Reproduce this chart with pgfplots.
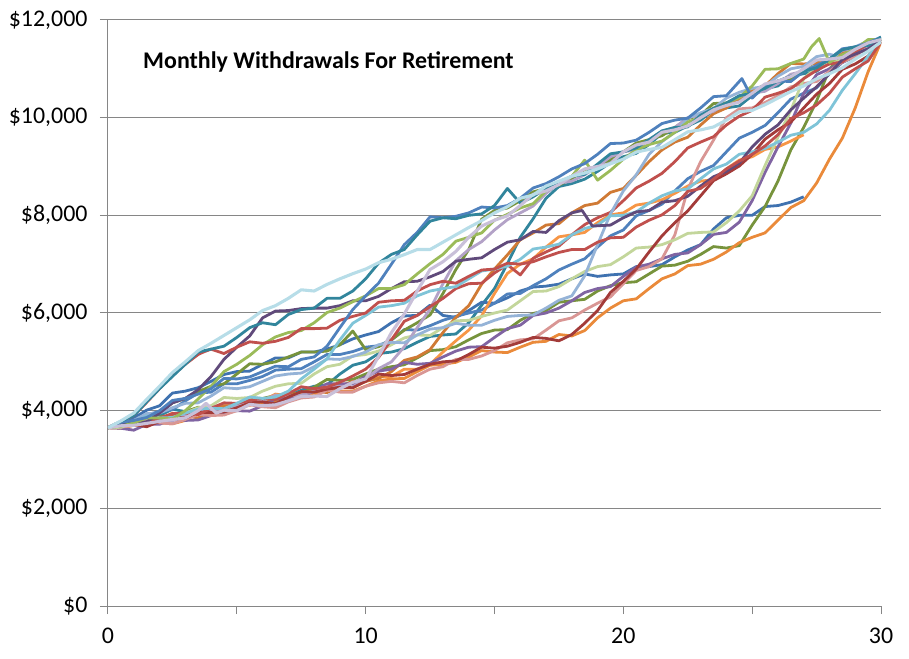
\documentclass[border=0pt]{standalone}
\usepackage{pgfplots}
\pgfplotsset{compat=1.18}
\usepackage{fontspec}
\setmainfont{Carlito}

\definecolor{axisgray}{RGB}{134,134,134}
\definecolor{cblue}{HTML}{4F81BD}
\definecolor{cblue2}{HTML}{3F72B0}
\definecolor{cred}{HTML}{C0504D}
\definecolor{cgreen}{HTML}{9BBB59}
\definecolor{cpurple}{HTML}{8064A2}
\definecolor{caqua}{HTML}{7FC4D8}
\definecolor{corange}{HTML}{F79646}
\definecolor{corange2}{HTML}{EA8A3A}
\definecolor{cteal}{HTML}{31859C}
\definecolor{cdkgreen}{HTML}{77933C}
\definecolor{cdkpurple}{HTML}{604A7B}
\definecolor{cdkorange}{HTML}{D07A35}
\definecolor{cdkred}{HTML}{A33B39}
\definecolor{cltblue}{HTML}{95B3D7}
\definecolor{cpink}{HTML}{D99694}
\definecolor{cltgreen}{HTML}{C3D69B}
\definecolor{cltpurple}{HTML}{B3A2C7}
\definecolor{cpaleaqua}{HTML}{B7DDE8}
\definecolor{cpalelav}{HTML}{C9C0D9}

\begin{document}
\begin{tikzpicture}
\begin{axis}[
  scale only axis, width=773bp, height=586bp,
  xmin=0, xmax=30, ymin=0, ymax=12000,
  axis x line*=bottom, axis y line*=left,
  axis line style={axisgray, line width=1bp},
  xtick={0,5,...,30}, xticklabels={0,,10,,20,,30},
  ytick={0,2000,...,12000}, scaled y ticks=false,
  yticklabels={\$0,{\$2,000},{\$4,000},{\$6,000},{\$8,000},{\$10,000},{\$12,000}},
  tick align=outside, major tick length=8bp,
  tick style={axisgray, line width=1bp},
  ymajorgrids, grid style={axisgray, line width=1bp},
  tick label style={font=\fontsize{24}{28}\selectfont, black},
  xticklabel style={yshift=-10bp},
  yticklabel style={xshift=-9bp},
  every axis plot/.append style={line width=2.8bp, line join=round, mark=none},
]

% U2 teal, steep 14-17
\addplot[cteal] coordinates {(0,3650)(0.5,3780)(1,3780)(1.5,3810)(2,3900)(2.5,4030)(3,3980)(3.5,3930)(4,4030)(4.5,4080)(5,4000)(5.5,4170)(6,4150)(6.5,4170)(7,4300)(7.5,4420)(8,4500)(8.5,4530)(9,4750)(9.5,4930)(10,5000)(10.5,5170)(11,5200)(11.5,5270)(12,5400)(12.5,5520)(13,5550)(13.5,5570)(14,5800)(14.5,6160)(15,6500)(15.5,7010)(16,7550)(16.5,7930)(17,8350)(17.5,8590)(18,8650)(18.5,8740)(19,8900)(19.5,9080)(20,9200)(20.5,9270)(21,9450)(21.5,9680)(22,9700)(22.5,9830)(23,9950)(23.5,10150)(24,10200)(24.5,10240)(25,10450)(25.5,10590)(26,10650)(26.5,10850)(27,10900)(27.5,10950)(28,11150)(28.5,11310)(29,11400)(29.5,11440)(30,11600)};
% G blue, ends at 27
\addplot[cblue2] coordinates {(0,3650)(0.5,3690)(1,3850)(1.5,4010)(2,4100)(2.5,4360)(3,4400)(3.5,4470)(4,4600)(4.5,4740)(5,4800)(5.5,4810)(6,4950)(6.5,5080)(7,5080)(7.5,5200)(8,5200)(8.5,5260)(9,5350)(9.5,5470)(10,5550)(10.5,5620)(11,5800)(11.5,5940)(12,5950)(12.5,6160)(13,5950)(13.5,5910)(14,6050)(14.5,6220)(15,6200)(15.5,6310)(16,6450)(16.5,6530)(17,6550)(17.5,6590)(18,6700)(18.5,6800)(19,6750)(19.5,6780)(20,6800)(20.5,6950)(21,6950)(21.5,6990)(22,7150)(22.5,7290)(23,7400)(23.5,7720)(24,7950)(24.5,8000)(25,8000)(25.5,8180)(26,8200)(26.5,8270)(27,8380)};
% G2 blue, middle
\addplot[cblue] coordinates {(0,3650)(0.5,3680)(1,3800)(1.5,3920)(2,3980)(2.5,4020)(3,4200)(3.5,4360)(4,4380)(4.5,4550)(5,4550)(5.5,4620)(6,4700)(6.5,4830)(7,4850)(7.5,4860)(8,5000)(8.5,5150)(9,5150)(9.5,5210)(10,5300)(10.5,5330)(11,5450)(11.5,5660)(12,5650)(12.5,5740)(13,5850)(13.5,5930)(14,6000)(14.5,6060)(15,6200)(15.5,6390)(16,6400)(16.5,6560)(17,6700)(17.5,6880)(18,7000)(18.5,7110)(19,7350)(19.5,7580)(20,7700)(20.5,7990)(21,8100)(21.5,8230)(22,8500)(22.5,8750)(23,8900)(23.5,9020)(24,9300)(24.5,9580)(25,9700)(25.5,9840)(26,10100)(26.5,10380)(27,10500)(27.5,10610)(28,10900)(28.5,11130)(29,11250)(29.5,11510)(30,11600)};
% H dark green, low then steep 25-28
\addplot[cdkgreen] coordinates {(0,3650)(0.5,3750)(1,3760)(1.5,3890)(2,3870)(2.5,3900)(3,3980)(3.5,4070)(4,4050)(4.5,4020)(5,4130)(5.5,4260)(6,4250)(6.5,4310)(7,4350)(7.5,4350)(8,4480)(8.5,4640)(9,4620)(9.5,4640)(10,4750)(10.5,4850)(11,4900)(11.5,4940)(12,5080)(12.5,5230)(13,5250)(13.5,5310)(14,5450)(14.5,5580)(15,5650)(15.5,5660)(16,5850)(16.5,5990)(17,6050)(17.5,6220)(18,6250)(18.5,6280)(19,6450)(19.5,6560)(20,6620)(20.5,6640)(21,6800)(21.5,6960)(22,6980)(22.5,7060)(23,7200)(23.5,7360)(24,7330)(24.5,7380)(25,7800)(25.5,8180)(26,8700)(26.5,9340)(27,9800)(27.5,10340)(28,11000)(28.5,11270)(29,11350)(29.5,11360)(30,11550)};
% H2 dark green, steep 13-15
\addplot[cdkgreen] coordinates {(0,3650)(0.5,3740)(1,3750)(1.5,3770)(2,3950)(2.5,4160)(3,4250)(3.5,4390)(4,4500)(4.5,4550)(5,4750)(5.5,4960)(6,4950)(6.5,5000)(7,5100)(7.5,5200)(8,5200)(8.5,5220)(9,5350)(9.5,5630)(10,5250)(10.5,5310)(11,5450)(11.5,5650)(12,5800)(12.5,5960)(13,6400)(13.5,6890)(14,7300)(14.5,7920)(15,8100)(15.5,8150)(16,8300)(16.5,8480)(17,8550)(17.5,8620)(18,8750)(18.5,8940)(19,9000)(19.5,9140)(20,9300)(20.5,9480)(21,9550)(21.5,9630)(22,9800)(22.5,9980)(23,10050)(23.5,10290)(24,10300)(24.5,10360)(25,10550)(25.5,10670)(26,10750)(26.5,10790)(27,11000)(27.5,11150)(28,11200)(28.5,11390)(29,11400)(29.5,11470)(30,11600)};
% J orange, ends at 27
\addplot[corange] coordinates {(0,3650)(0.5,3690)(1,3700)(1.5,3690)(2,3800)(2.5,3950)(3,3900)(3.5,3940)(4,4000)(4.5,4100)(5,4100)(5.5,4110)(6,4200)(6.5,4340)(7,4300)(7.5,4350)(8,4400)(8.5,4510)(9,4500)(9.5,4470)(10,4600)(10.5,4690)(11,4700)(11.5,4850)(12,4850)(12.5,4950)(13,5200)(13.5,5430)(14,5650)(14.5,5940)(15,6400)(15.5,6810)(16,7000)(16.5,7110)(17,7350)(17.5,7560)(18,7600)(18.5,7650)(19,7850)(19.5,8010)(20,8050)(20.5,8210)(21,8250)(21.5,8320)(22,8450)(22.5,8600)(23,8700)(23.5,8730)(24,8950)(24.5,9130)(25,9200)(25.5,9350)(26,9400)(26.5,9520)(27,9650)};
% K orange, lowest
\addplot[corange2] coordinates {(0,3650)(0.5,3640)(1,3700)(1.5,3760)(2,3750)(2.5,3730)(3,3800)(3.5,3960)(4,3950)(4.5,3980)(5,4050)(5.5,4160)(6,4150)(6.5,4110)(7,4250)(7.5,4340)(8,4330)(8.5,4430)(9,4400)(9.5,4400)(10,4500)(10.5,4610)(11,4650)(11.5,4660)(12,4800)(12.5,4930)(13,4950)(13.5,4990)(14,5100)(14.5,5230)(15,5200)(15.5,5190)(16,5300)(16.5,5400)(17,5420)(17.5,5560)(18,5530)(18.5,5640)(19,5900)(19.5,6100)(20,6250)(20.5,6290)(21,6500)(21.5,6700)(22,6800)(22.5,6970)(23,7000)(23.5,7100)(24,7250)(24.5,7440)(25,7550)(25.5,7640)(26,7900)(26.5,8160)(27,8300)(27.5,8660)(28,9150)(28.5,9580)(29,10200)(29.5,10940)(30,11550)};
% K2 dark orange, steep 11-16
\addplot[cdkorange] coordinates {(0,3650)(0.5,3770)(1,3720)(1.5,3750)(2,3800)(2.5,3910)(3,3900)(3.5,3850)(4,4000)(4.5,4100)(5,4100)(5.5,4230)(6,4200)(6.5,4200)(7,4300)(7.5,4380)(8,4400)(8.5,4370)(9,4500)(9.5,4600)(10,4600)(10.5,4660)(11,4800)(11.5,5030)(12,5100)(12.5,5250)(13,5600)(13.5,5910)(14,6150)(14.5,6590)(15,6900)(15.5,7190)(16,7500)(16.5,7640)(17,7800)(17.5,7830)(18,8050)(18.5,8200)(19,8250)(19.5,8470)(20,8550)(20.5,8820)(21,9100)(21.5,9340)(22,9500)(22.5,9600)(23,9850)(23.5,10080)(24,10200)(24.5,10390)(25,10550)(25.5,10650)(26,10900)(26.5,11110)(27,11100)(27.5,11110)(28,11200)(28.5,11330)(29,11400)(29.5,11420)(30,11600)};
% L purple, low then steep 24-27
\addplot[cpurple] coordinates {(0,3650)(0.5,3640)(1,3600)(1.5,3720)(2,3720)(2.5,3830)(3,3800)(3.5,3810)(4,3900)(4.5,3990)(5,4000)(5.5,3990)(6,4100)(6.5,4240)(7,4250)(7.5,4280)(8,4400)(8.5,4550)(9,4550)(9.5,4550)(10,4700)(10.5,4810)(11,4850)(11.5,4990)(12,4950)(12.5,4970)(13,5100)(13.5,5220)(14,5300)(14.5,5310)(15,5500)(15.5,5680)(16,5750)(16.5,5950)(17,6000)(17.5,6100)(18,6250)(18.5,6420)(19,6500)(19.5,6540)(20,6750)(20.5,6940)(21,7000)(21.5,7110)(22,7200)(22.5,7230)(23,7400)(23.5,7610)(24,7650)(24.5,7860)(25,8300)(25.5,8880)(26,9400)(26.5,9890)(27,10500)(27.5,10880)(28,11000)(28.5,11130)(29,11300)(29.5,11470)(30,11550)};
% M pink, steep 22-24
\addplot[cpink] coordinates {(0,3650)(0.5,3660)(1,3700)(1.5,3760)(2,3750)(2.5,3730)(3,3820)(3.5,3920)(4,3900)(4.5,3910)(5,4000)(5.5,4120)(6,4080)(6.5,4060)(7,4180)(7.5,4260)(8,4280)(8.5,4420)(9,4380)(9.5,4380)(10,4500)(10.5,4570)(11,4600)(11.5,4570)(12,4720)(12.5,4850)(13,4900)(13.5,5050)(14,5050)(14.5,5120)(15,5230)(15.5,5390)(16,5450)(16.5,5470)(17,5650)(17.5,5840)(18,5900)(18.5,6060)(19,6200)(19.5,6330)(20,6600)(20.5,6870)(21,6950)(21.5,7110)(22,7600)(22.5,8530)(23,9100)(23.5,9540)(24,10000)(24.5,10180)(25,10200)(25.5,10310)(26,10450)(26.5,10630)(27,10700)(27.5,10740)(28,10950)(28.5,11140)(29,11250)(29.5,11470)(30,11550)};
% N light green, steep 25-27
\addplot[cltgreen] coordinates {(0,3650)(0.5,3660)(1,3750)(1.5,3880)(2,3850)(2.5,3830)(3,3950)(3.5,4060)(4,4100)(4.5,4270)(5,4250)(5.5,4270)(6,4400)(6.5,4500)(7,4550)(7.5,4560)(8,4750)(8.5,4900)(9,4950)(9.5,5120)(10,5150)(10.5,5220)(11,5350)(11.5,5490)(12,5550)(12.5,5540)(13,5700)(13.5,5840)(14,5850)(14.5,5930)(15,6000)(15.5,6060)(16,6250)(16.5,6440)(17,6450)(17.5,6540)(18,6700)(18.5,6850)(19,6950)(19.5,6990)(20,7150)(20.5,7330)(21,7350)(21.5,7400)(22,7500)(22.5,7630)(23,7650)(23.5,7660)(24,7850)(24.5,8090)(25,8400)(25.5,9020)(26,9600)(26.5,10150)(27,10800)(27.5,11030)(28,11100)(28.5,11190)(29,11350)(29.5,11540)(30,11600)};
% O light purple, steep 11-14
\addplot[cltpurple] coordinates {(0,3650)(0.5,3710)(1,3700)(1.5,3840)(2,3800)(2.5,3790)(3,3900)(3.5,3970)(4,4000)(4.5,3960)(5,4100)(5.5,4200)(6,4200)(6.5,4320)(7,4300)(7.5,4320)(8,4400)(8.5,4490)(9,4500)(9.5,4490)(10,4650)(10.5,4860)(11,5000)(11.5,5310)(12,5700)(12.5,6080)(13,6600)(13.5,7070)(14,7300)(14.5,7460)(15,7700)(15.5,7910)(16,8050)(16.5,8190)(17,8450)(17.5,8660)(18,8700)(18.5,8830)(19,9000)(19.5,9200)(20,9300)(20.5,9340)(21,9550)(21.5,9720)(22,9800)(22.5,10000)(23,10050)(23.5,10130)(24,10300)(24.5,10430)(25,10500)(25.5,10540)(26,10700)(26.5,10890)(27,10950)(27.5,11040)(28,11200)(28.5,11380)(29,11400)(29.5,11430)(30,11600)};
% P dark red, steep 18.5-23
\addplot[cdkred] coordinates {(0,3650)(0.5,3710)(1,3720)(1.5,3670)(2,3780)(2.5,3870)(3,3850)(3.5,3970)(4,3960)(4.5,3970)(5,4060)(5.5,4160)(6,4180)(6.5,4140)(7,4280)(7.5,4390)(8,4380)(8.5,4440)(9,4480)(9.5,4470)(10,4600)(10.5,4750)(11,4720)(11.5,4740)(12,4850)(12.5,4950)(13,5000)(13.5,5020)(14,5150)(14.5,5300)(15,5280)(15.5,5320)(16,5400)(16.5,5500)(17,5480)(17.5,5430)(18,5560)(18.5,5790)(19,6050)(19.5,6420)(20,6650)(20.5,6900)(21,7250)(21.5,7580)(22,7850)(22.5,8090)(23,8400)(23.5,8710)(24,8850)(24.5,9010)(25,9250)(25.5,9560)(26,9750)(26.5,9910)(27,10200)(27.5,10480)(28,10700)(28.5,10990)(29,11100)(29.5,11260)(30,11550)};
% Q2 red, steep 10-12
\addplot[cred] coordinates {(0,3650)(0.5,3770)(1,3740)(1.5,3770)(2,3850)(2.5,3940)(3,3950)(3.5,3920)(4,4050)(4.5,4160)(5,4150)(5.5,4210)(6,4250)(6.5,4230)(7,4350)(7.5,4490)(8,4450)(8.5,4480)(9,4580)(9.5,4710)(10,4850)(10.5,5090)(11,5450)(11.5,5830)(12,5950)(12.5,6130)(13,6300)(13.5,6500)(14,6600)(14.5,6610)(15,6820)(15.5,6990)(16,6780)(16.5,7120)(17,7250)(17.5,7370)(18,7600)(18.5,7810)(19,7950)(19.5,8060)(20,8300)(20.5,8560)(21,8700)(21.5,8860)(22,9100)(22.5,9380)(23,9500)(23.5,9610)(24,9850)(24.5,10030)(25,10150)(25.5,10420)(26,10500)(26.5,10590)(27,10800)(27.5,10970)(28,11100)(28.5,11140)(29,11350)(29.5,11500)(30,11550)};
% Q light blue, steep 18-21
\addplot[cltblue] coordinates {(0,3650)(0.5,3690)(1,3800)(1.5,3940)(2,3950)(2.5,4060)(3,4150)(3.5,4160)(4,4300)(4.5,4470)(5,4450)(5.5,4490)(6,4600)(6.5,4710)(7,4750)(7.5,4770)(8,4900)(8.5,5060)(9,5050)(9.5,5110)(10,5200)(10.5,5350)(11,5400)(11.5,5390)(12,5550)(12.5,5670)(13,5700)(13.5,5790)(14,5750)(14.5,5750)(15,5850)(15.5,5930)(16,5950)(16.5,5960)(17,6100)(17.5,6260)(18,6350)(18.5,6760)(19,7400)(19.5,8030)(20,8500)(20.5,8830)(21,9250)(21.5,9510)(22,9700)(22.5,9990)(23,10100)(23.5,10190)(24,10400)(24.5,10520)(25,10600)(25.5,10640)(26,10850)(26.5,11000)(27,11050)(27.5,11250)(28,11300)(28.5,11220)(29,11450)(29.5,11570)(30,11600)};
% R aqua, steep 7-10 then middle
\addplot[caqua] coordinates {(0,3650)(0.5,3690)(1,3750)(1.5,3890)(2,3850)(2.5,3860)(3,3950)(3.5,4030)(4,4050)(4.5,4040)(5,4150)(5.5,4280)(6,4250)(6.5,4280)(7,4400)(7.5,4650)(8,4850)(8.5,5060)(9,5450)(9.5,5790)(10,5950)(10.5,6120)(11,6150)(11.5,6200)(12,6350)(12.5,6450)(13,6500)(13.5,6540)(14,6700)(14.5,6860)(15,6900)(15.5,6960)(16,7100)(16.5,7310)(17,7350)(17.5,7410)(18,7600)(18.5,7730)(19,7800)(19.5,7990)(20,8000)(20.5,8070)(21,8250)(21.5,8400)(22,8500)(22.5,8540)(23,8750)(23.5,8950)(24,9050)(24.5,9250)(25,9300)(25.5,9370)(26,9500)(26.5,9640)(27,9700)(27.5,9870)(28,10150)(28.5,10560)(29,10900)(29.5,11260)(30,11550)};
% E dark purple, steep 3-6
\addplot[cdkpurple] coordinates {(0,3650)(0.5,3730)(1,3750)(1.5,3770)(2,3950)(2.5,4160)(3,4250)(3.5,4430)(4,4700)(4.5,5050)(5,5300)(5.5,5530)(6,5900)(6.5,6040)(7,6050)(7.5,6090)(8,6100)(8.5,6100)(9,6150)(9.5,6250)(10,6250)(10.5,6340)(11,6500)(11.5,6640)(12,6650)(12.5,6740)(13,6850)(13.5,7060)(14,7100)(14.5,7130)(15,7300)(15.5,7450)(16,7500)(16.5,7670)(17,7650)(17.5,7890)(18,8050)(18.4,8100)(18.8,7780)(19.5,7800)(20,7950)(20.5,8070)(21,8100)(21.5,8270)(22,8300)(22.5,8390)(23,8600)(23.5,8790)(24,8900)(24.5,9070)(25,9400)(25.5,9660)(26,9850)(26.5,10160)(27,10400)(27.5,10630)(28,10900)(28.5,11190)(29,11300)(29.5,11410)(30,11600)};
% F green, spikes at 18.5 and 27.6
\addplot[cgreen] coordinates {(0,3650)(0.5,3680)(1,3750)(1.5,3850)(2,3850)(2.5,3830)(3,4000)(3.5,4240)(4,4500)(4.5,4800)(5,4950)(5.5,5130)(6,5350)(6.5,5510)(7,5600)(7.5,5640)(8,5800)(8.5,6010)(9,6100)(9.5,6230)(10,6350)(10.5,6500)(11,6500)(11.5,6580)(12,6800)(12.5,7010)(13,7200)(13.5,7470)(14,7550)(14.5,7640)(15,7900)(15.5,8020)(16,8150)(16.5,8240)(17,8500)(17.5,8670)(18,8800)(18.5,9130)(19,8720)(19.5,8920)(20,9150)(20.5,9340)(21,9450)(21.5,9520)(22,9700)(22.5,9910)(23,10000)(23.5,10190)(24,10300)(24.5,10410)(25,10650)(25.5,10990)(26,11000)(26.5,11110)(27,11200)(27.3,11450)(27.6,11620)(28,11130)(28.5,11290)(29,11400)(29.5,11600)(30,11600)};
% D red, joins top at 3.7 then middle
\addplot[cred] coordinates {(0,3650)(0.5,3780)(1,3900)(1.5,4170)(2,4450)(2.5,4720)(3,4950)(3.5,5150)(3.7,5200)(4,5260)(4.5,5170)(5,5300)(5.5,5410)(6,5380)(6.5,5420)(7,5500)(7.5,5680)(8,5680)(8.5,5690)(9,5850)(9.5,5930)(10,6000)(10.5,6220)(11,6250)(11.5,6260)(12,6450)(12.5,6580)(13,6650)(13.5,6610)(14,6750)(14.5,6880)(15,6900)(15.5,7020)(16,7000)(16.5,7050)(17,7150)(17.5,7240)(18,7300)(18.5,7300)(19,7450)(19.5,7540)(20,7550)(20.5,7760)(21,7900)(21.5,8010)(22,8200)(22.5,8490)(23,8550)(23.5,8740)(24,8950)(24.5,9110)(25,9250)(25.5,9420)(26,9650)(26.5,9980)(27,10100)(27.5,10260)(28,10500)(28.5,10830)(29,11000)(29.5,11160)(30,11550)};
% C blue, steep 8-12, spike 24.6
\addplot[cblue] coordinates {(0,3650)(0.5,3760)(1,3800)(1.5,3860)(2,4000)(2.5,4210)(3,4250)(3.5,4340)(4,4450)(4.5,4660)(5,4650)(5.5,4690)(6,4800)(6.5,4910)(7,4900)(7.5,5050)(8,5100)(8.5,5320)(9,5700)(9.5,6070)(10,6350)(10.5,6610)(11,7000)(11.5,7400)(12,7650)(12.5,7970)(13,7950)(13.5,7980)(14,8050)(14.5,8170)(15,8150)(15.5,8200)(16,8350)(16.5,8560)(17,8650)(17.5,8790)(18,8950)(18.5,9060)(19,9250)(19.5,9470)(20,9480)(20.5,9540)(21,9700)(21.5,9880)(22,9950)(22.5,9990)(23,10200)(23.5,10430)(24,10450)(24.6,10800)(25,10400)(25.5,10650)(26,10750)(26.5,10740)(27,10950)(27.5,11070)(28,11200)(28.5,11410)(29,11450)(29.5,11530)(30,11650)};
% B teal, near top, spike 15.5
\addplot[cteal] coordinates {(0,3650)(0.5,3780)(1,3900)(1.5,4180)(2,4450)(2.5,4700)(3,4950)(3.5,5200)(4,5260)(4.5,5320)(5,5500)(5.5,5700)(6,5800)(6.5,5760)(7,5970)(7.5,6070)(8,6100)(8.5,6300)(9,6300)(9.5,6450)(10,6700)(10.5,7020)(11,7200)(11.5,7300)(12,7600)(12.5,7880)(13,7950)(13.5,7930)(14,8000)(14.5,8030)(15,8200)(15.5,8550)(16,8250)(16.5,8380)(17,8550)(17.5,8670)(18,8800)(18.5,8840)(19,9050)(19.5,9260)(20,9300)(20.5,9380)(21,9550)(21.5,9730)(22,9800)(22.5,9810)(23,10050)(23.5,10190)(24,10300)(24.5,10450)(25,10500)(25.5,10600)(26,10750)(26.5,10850)(27,10950)(27.5,11020)(28,11200)(28.5,11390)(29,11450)(29.5,11480)(30,11650)};
% T pale lavender, steep 10-12
\addplot[cpalelav, line width=3.1bp] coordinates {(0,3650)(0.5,3690)(1,3700)(1.5,3740)(2,3780)(2.5,3820)(3,3850)(3.5,4000)(3.8,4150)(4.2,3950)(4.5,4010)(5,4000)(5.5,4130)(6,4100)(6.5,4120)(7,4200)(7.5,4290)(8,4300)(8.5,4290)(9,4450)(9.5,4580)(10,4650)(10.5,5110)(11,5600)(11.5,5980)(12,6450)(12.5,6890)(13,7050)(13.5,7260)(14,7550)(14.5,7780)(15,7900)(15.5,7990)(16,8200)(16.5,8430)(17,8500)(17.5,8630)(18,8800)(18.5,8950)(19,9000)(19.5,9060)(20,9300)(20.5,9440)(21,9500)(21.5,9700)(22,9750)(22.5,9830)(23,10000)(23.5,10160)(24,10250)(24.5,10320)(25,10500)(25.5,10690)(26,10750)(26.5,10840)(27,11000)(27.5,11180)(28,11200)(28.5,11230)(29,11400)(29.5,11530)(30,11600)};
% A pale aqua, top line
\addplot[cpaleaqua, line width=3.1bp] coordinates {(0,3650)(0.5,3790)(1,3950)(1.5,4230)(2,4500)(2.5,4780)(3,5000)(3.5,5230)(4,5380)(4.5,5540)(5,5700)(5.5,5860)(6,6050)(6.5,6150)(7,6300)(7.5,6475)(8,6450)(8.5,6585)(9,6700)(9.5,6805)(10,6900)(10.5,7030)(11,7100)(11.5,7195)(12,7300)(12.5,7300)(13,7450)(13.5,7600)(14,7750)(14.5,7890)(15,8050)(15.5,8175)(16,8350)(16.5,8415)(17,8600)(17.5,8700)(18,8800)(18.5,8865)(19,8950)(19.5,9055)(20,9150)(20.5,9295)(21,9350)(21.5,9390)(22,9550)(22.5,9710)(23,9750)(23.5,9810)(24,9950)(24.5,10120)(25,10150)(25.5,10265)(26,10400)(26.5,10535)(27,10650)(27.5,10795)(28,10900)(28.5,11020)(29,11200)(29.5,11360)(30,11550)};

\node[anchor=base west, inner sep=0pt, font=\fontsize{24}{28}\selectfont\bfseries]
  at (axis cs:1.36,11000) {Monthly Withdrawals For Retirement};
\end{axis}
\pgfresetboundingbox
\path (-108bp,-53bp) rectangle (801bp,606bp);
\end{tikzpicture}
\end{document}
